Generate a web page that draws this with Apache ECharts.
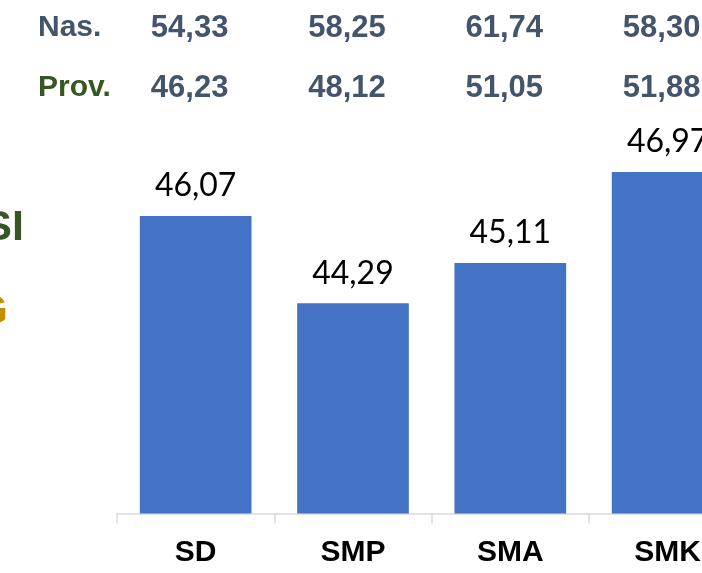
<!DOCTYPE html>
<html>
<head>
<meta charset="utf-8">
<script src="https://cdn.jsdelivr.net/npm/echarts@6/dist/echarts.min.js"></script>
<style>
html,body{margin:0;padding:0;background:#fff;}
#c{width:702px;height:573px;}
</style>
</head>
<body>
<div id="c"></div>
<script>
const categories = ['SD', 'SMP', 'SMA', 'SMK'];
const values = [46.07, 44.29, 45.11, 46.97];
const nasValues = [54.33, 58.25, 61.74, 58.30];
const provValues = [46.23, 48.12, 51.05, 51.88];
const rowNames = ['Nas.', 'Prov.'];
const sideTexts = ['SI', 'G'];

const fmt = v => Number(v).toFixed(2).replace('.', ',');

const chart = echarts.init(document.getElementById('c'));
const headerLabel = (arr, color) => ({
  show: true,
  interval: 0,
  margin: 0,
  verticalAlign: 'middle',
  color: color,
  fontFamily: 'Liberation Sans',
  fontWeight: 'bold',
  fontSize: 31,
  padding: [0, 12, 0, 0],
  formatter: (val, idx) => fmt(arr[idx])
});

chart.setOption({
  animation: false,
  grid: { left: 117, top: 23.5, width: 629.3, bottom: 59.5, containLabel: false, outerBoundsMode: 'none' },
  xAxis: [
    {
      type: 'category',
      data: categories,
      position: 'bottom',
      axisLine: { show: true, lineStyle: { color: '#d9d9d9', width: 1.5 } },
      axisTick: { show: true, length: 10, lineStyle: { color: '#d9d9d9', width: 1.5 } },
      axisLabel: { color: '#000', fontFamily: 'Liberation Sans', fontWeight: 'bold', fontSize: 30, margin: 24 }
    },
    {
      type: 'category',
      data: categories,
      position: 'top',
      offset: -4.5,
      axisLine: { show: false },
      axisTick: { show: false },
      axisLabel: headerLabel(nasValues, '#44546A')
    },
    {
      type: 'category',
      data: categories,
      position: 'top',
      offset: -64.5,
      axisLine: { show: false },
      axisTick: { show: false },
      axisLabel: headerLabel(provValues, '#44546A')
    }
  ],
  yAxis: {
    type: 'value',
    min: 40,
    max: 50,
    show: false,
    splitLine: { show: false }
  },
  series: [{
    type: 'bar',
    xAxisIndex: 0,
    data: values,
    barCategoryGap: '29%',
    itemStyle: { color: '#4472C4' },
    label: {
      show: true,
      position: 'top',
      distance: 14,
      color: '#000',
      fontFamily: 'Lato',
      fontSize: 32,
      formatter: p => fmt(p.value)
    }
  }],
  graphic: [
    { type: 'text', left: 38, top: 13, style: { text: rowNames[0], fill: '#44546A', font: 'bold 30px "Liberation Sans"' } },
    { type: 'text', left: 38, top: 73, style: { text: rowNames[1], fill: '#375623', font: 'bold 30px "Liberation Sans"' } },
    { type: 'text', x: 24, y: 228, style: { text: sideTexts[0], fill: '#375623', font: 'bold 43px "Liberation Sans"', align: 'right', verticalAlign: 'middle' } },
    { type: 'text', x: 8, y: 312, style: { text: sideTexts[1], fill: '#BF9000', font: 'bold 43px "Liberation Sans"', align: 'right', verticalAlign: 'middle' } }
  ]
});
</script>
</body>
</html>
